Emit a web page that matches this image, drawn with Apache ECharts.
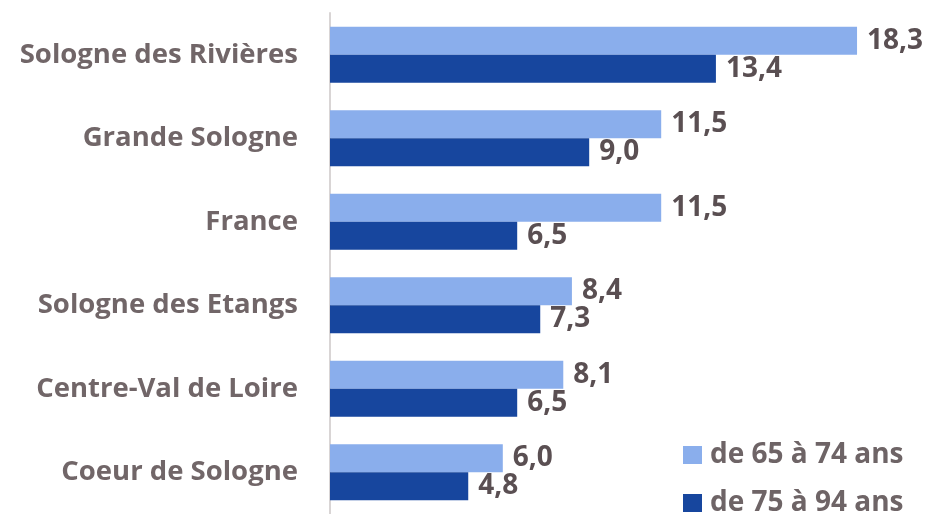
<!DOCTYPE html>
<html>
<head>
<meta charset="utf-8">
<script src="https://cdn.jsdelivr.net/npm/echarts@6/dist/echarts.min.js"></script>
<style>
  html, body { margin: 0; padding: 0; background: #fff; }
  #chart { width: 926px; height: 514px; }
</style>
</head>
<body>
<div id="chart"></div>
<script>
// Territories, top to bottom
const categories = [
  'Sologne des Rivières',
  'Grande Sologne',
  'France',
  'Sologne des Etangs',
  'Centre-Val de Loire',
  'Coeur de Sologne'
];
const seriesNames = ['de 65 à 74 ans', 'de 75 à 94 ans'];
const values65to74 = [18.3, 11.5, 11.5, 8.4, 8.1, 6.0];
const values75to94 = [13.4, 9.0, 6.5, 7.3, 6.5, 4.8];

const fontFamily = '"Open Sans", Lato, sans-serif';
const fmt = p => p.value.toFixed(1).replace('.', ',');

const labelStyle = {
  show: true,
  position: 'right',
  distance: 10,
  formatter: fmt,
  fontFamily: fontFamily,
  fontWeight: 'bold',
  fontSize: 28,
  color: '#5A4F52'
};

// One legend block per series so the two entries stack at fixed rows
function legendAt(name, top) {
  return {
    orient: 'vertical',
    left: 683,
    top: top,
    padding: 0,
    itemWidth: 19,
    itemHeight: 18,
    icon: 'rect',
    textStyle: {
      fontFamily: fontFamily, fontWeight: 'bold', fontSize: 28, color: '#6E6466',
      padding: [0, 0, 0, 3]
    },
    data: [name]
  };
}

const chart = echarts.init(document.getElementById('chart'));
chart.setOption({
  animation: false,
  grid: { left: 330, top: 13, width: 576, height: 504 },
  legend: [legendAt(seriesNames[0], 441), legendAt(seriesNames[1], 489)],
  xAxis: {
    type: 'value',
    min: 0,
    max: 20,
    show: false
  },
  yAxis: {
    type: 'category',
    inverse: true,
    data: categories,
    axisLine: { show: true, lineStyle: { color: '#D9D5D5', width: 2 } },
    axisTick: { show: false },
    axisLabel: {
      margin: 32,
      fontFamily: fontFamily,
      fontWeight: 'bold',
      fontSize: 27.5,
      color: '#716668'
    }
  },
  series: [
    {
      name: seriesNames[0],
      type: 'bar',
      data: values65to74,
      barWidth: 28,
      barGap: '0%',
      itemStyle: { color: '#8AAEEC' },
      label: labelStyle
    },
    {
      name: seriesNames[1],
      type: 'bar',
      data: values75to94,
      barWidth: 28,
      barGap: '0%',
      itemStyle: { color: '#17469E' },
      label: labelStyle
    }
  ]
});
</script>
</body>
</html>
